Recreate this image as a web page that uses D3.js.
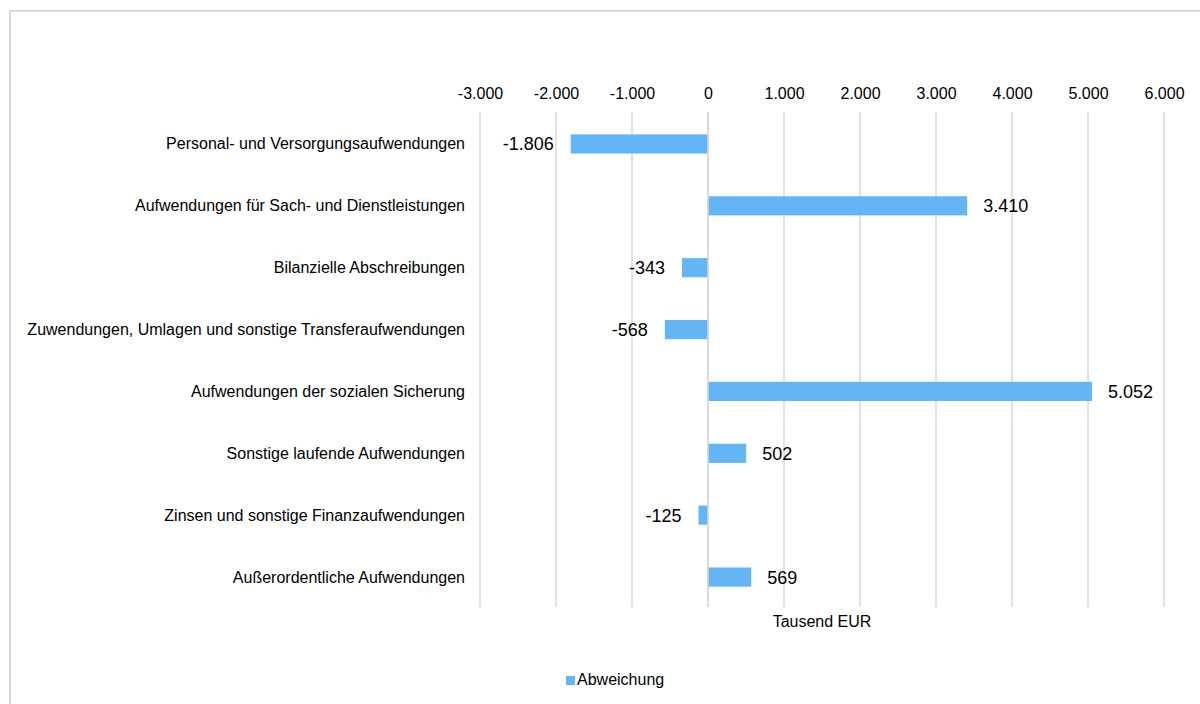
<!DOCTYPE html>
<html><head><meta charset="utf-8">
<script src="https://cdn.jsdelivr.net/npm/d3@7"></script>
<style>
html,body{margin:0;padding:0;background:#fff;}
svg{display:block;font-family:"Liberation Sans",Arial,sans-serif;}
</style></head>
<body>
<svg id="chart" width="1200" height="704"></svg>
<script>
const categories = [
  "Personal- und Versorgungsaufwendungen",
  "Aufwendungen für Sach- und Dienstleistungen",
  "Bilanzielle Abschreibungen",
  "Zuwendungen, Umlagen und sonstige Transferaufwendungen",
  "Aufwendungen der sozialen Sicherung",
  "Sonstige laufende Aufwendungen",
  "Zinsen und sonstige Finanzaufwendungen",
  "Außerordentliche Aufwendungen"
];
const values = [-1806, 3410, -343, -568, 5052, 502, -125, 569];
const tickValues = [-3000, -2000, -1000, 0, 1000, 2000, 3000, 4000, 5000, 6000];
const seriesName = "Abweichung";
const axisTitle = "Tausend EUR";

const de = d3.formatLocale({decimal: ",", thousands: ".", grouping: [3], currency: ["", " €"], minus: "-"});
const fmt = de.format(",d");

const svg = d3.select("#chart");
const barColor = "#64b5f6";
const gridColor = "#d9d9d9";

// outer border
svg.append("rect").attr("x", 10).attr("y", 11).attr("width", 1200).attr("height", 700)
  .attr("fill", "none").attr("stroke", gridColor).attr("stroke-width", 2);

const x = d3.scaleLinear().domain([-3000, 6000]).range([480, 1164]);
const y = d3.scaleBand().domain(categories).range([113, 608]).paddingInner(0.69).paddingOuter(0.345);

// gridlines
svg.append("g").selectAll("line").data(tickValues).join("line")
  .attr("x1", d => x(d)).attr("x2", d => x(d))
  .attr("y1", 112).attr("y2", 607)
  .attr("stroke", gridColor).attr("stroke-width", 1.5);

// top axis labels
const axis = d3.axisTop(x).tickValues(tickValues).tickFormat(fmt).tickSize(0).tickPadding(0);
const gAxis = svg.append("g").attr("transform", "translate(0,99)").call(axis);
gAxis.select(".domain").remove();
gAxis.selectAll("text").attr("font-size", 16).attr("font-family", "Liberation Sans, Arial, sans-serif")
  .attr("fill", "#000").attr("dy", 0);

// bars
svg.append("g").selectAll("rect").data(values).join("rect")
  .attr("x", d => x(Math.min(0, d)))
  .attr("width", d => Math.abs(x(d) - x(0)))
  .attr("y", (d, i) => y(categories[i]))
  .attr("height", y.bandwidth())
  .attr("fill", barColor);

// zero line on top
svg.append("line").attr("x1", x(0)).attr("x2", x(0)).attr("y1", 112).attr("y2", 607)
  .attr("stroke", gridColor).attr("stroke-width", 1.5);

// category labels
svg.append("g").selectAll("text").data(categories).join("text")
  .attr("x", 465)
  .attr("y", d => y(d) + y.bandwidth() / 2 + 5.5)
  .attr("text-anchor", "end")
  .attr("font-size", 16).attr("fill", "#000")
  .text(d => d);

// value labels
svg.append("g").selectAll("text").data(values).join("text")
  .attr("x", d => d < 0 ? x(d) - 17 : x(d) + 16)
  .attr("y", (d, i) => y(categories[i]) + y.bandwidth() / 2 + 6.5)
  .attr("text-anchor", d => d < 0 ? "end" : "start")
  .attr("font-size", 18).attr("fill", "#000")
  .text(d => fmt(d));

// axis title
svg.append("text").attr("x", (x(-3000) + x(6000)) / 2).attr("y", 627)
  .attr("text-anchor", "middle").attr("font-size", 16).attr("fill", "#000").text(axisTitle);

// legend
svg.append("rect").attr("x", 566).attr("y", 676).attr("width", 9).attr("height", 9).attr("fill", barColor);
svg.append("text").attr("x", 577).attr("y", 685).attr("font-size", 16).attr("fill", "#000").text(seriesName);
</script>
</body></html>
